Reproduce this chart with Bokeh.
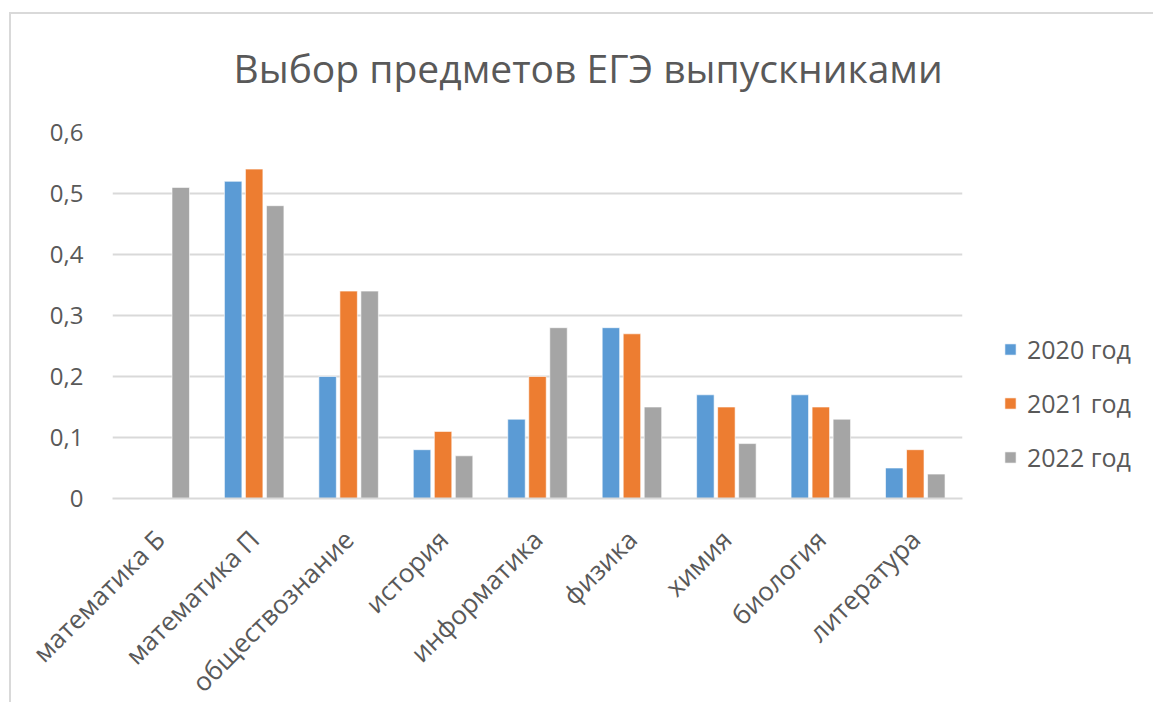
from math import pi
from bokeh.plotting import figure
from bokeh.models import (ColumnDataSource, FactorRange, Legend, LegendItem,
                          CustomJSTickFormatter, FixedTicker, Title)
from bokeh.transform import dodge
from bokeh.embed import file_html
from bokeh.resources import INLINE

categories = ["математика Б", "математика П", "обществознание", "история",
              "информатика", "физика", "химия", "биология", "литература"]
years = ["2020 год", "2021 год", "2022 год"]
v2020 = [0, 0.52, 0.20, 0.08, 0.13, 0.28, 0.17, 0.17, 0.05]
v2021 = [0, 0.54, 0.34, 0.11, 0.20, 0.27, 0.15, 0.15, 0.08]
v2022 = [0.51, 0.48, 0.34, 0.07, 0.28, 0.15, 0.09, 0.13, 0.04]
y_ticks = [0, 0.1, 0.2, 0.3, 0.4, 0.5, 0.6]
title_text = "Выбор предметов ЕГЭ выпускниками"

colors = ["#5B9BD5", "#ED7D31", "#A5A5A5"]
FONT = "Open Sans"
TXT = "#595959"

src = ColumnDataSource(dict(cat=categories, v2020=v2020, v2021=v2021, v2022=v2022))

p = figure(x_range=FactorRange(*categories), y_range=(0, 0.6),
           frame_width=850, frame_height=366, output_backend="svg", toolbar_location=None,
           min_border_left=112, min_border_right=183, min_border_top=100,
           min_border_bottom=200)
p.border_fill_color = None
# chart-area border: top and left edges drawn as background lines of the host element
p.styles = {
    "background-image": "linear-gradient(#d9d9d9, #d9d9d9), linear-gradient(#d9d9d9, #d9d9d9)",
    "background-size": "100% 2px, 2px 100%",
    "background-position": "9px 12px, 9px 12px",
    "background-repeat": "no-repeat",
}

p.title = Title(text=title_text, align="left", offset=121, text_font_size="39px",
                text_color=TXT, text_font=FONT, text_font_style="normal", standoff=77)

offs = [-0.2225, 0.0, 0.2225]
renderers = []
for col, off, c in zip(["v2020", "v2021", "v2022"], offs, colors):
    r = p.vbar(x=dodge("cat", off, range=p.x_range), top=col, width=0.185,
               source=src, fill_color=c, line_color="white", line_width=1, line_alpha=0.6)
    renderers.append(r)

legend = Legend(items=[LegendItem(label=y, renderers=[r]) for y, r in zip(years, renderers)],
                location=(41, 24), orientation="vertical")
legend.glyph_width = 14
legend.glyph_height = 14
legend.label_height = 30
legend.spacing = 20
legend.label_standoff = 10
legend.padding = 0
legend.margin = 0
legend.border_line_color = None
legend.background_fill_alpha = 0
legend.label_text_font = FONT
legend.label_text_font_size = "25px"
legend.label_text_color = TXT
p.add_layout(legend, "right")

p.outline_line_color = None
p.xgrid.grid_line_color = None
p.ygrid.grid_line_color = "#d9d9d9"
p.ygrid.grid_line_width = 2
p.yaxis.ticker = FixedTicker(ticks=y_ticks)
p.yaxis.formatter = CustomJSTickFormatter(
    code="return tick == 0 ? '0' : tick.toFixed(1).replace('.', ',');")
p.yaxis.axis_line_color = None
p.yaxis.major_tick_line_color = None
p.yaxis.minor_tick_line_color = None
p.yaxis.major_label_standoff = 23
p.yaxis.major_label_text_font = FONT
p.yaxis.major_label_text_font_size = "24px"
p.yaxis.major_label_text_color = TXT

p.xaxis.axis_line_color = "#d9d9d9"
p.xaxis.axis_line_width = 2
p.xaxis.major_tick_line_color = None
p.xaxis.minor_tick_line_color = None
p.xaxis.major_label_orientation = pi / 4
p.xaxis.major_label_standoff = 30
p.xaxis.major_label_text_font = FONT
p.xaxis.major_label_text_font_size = "26px"
p.xaxis.major_label_text_color = TXT

open("out.html", "w").write(file_html(p, INLINE))
